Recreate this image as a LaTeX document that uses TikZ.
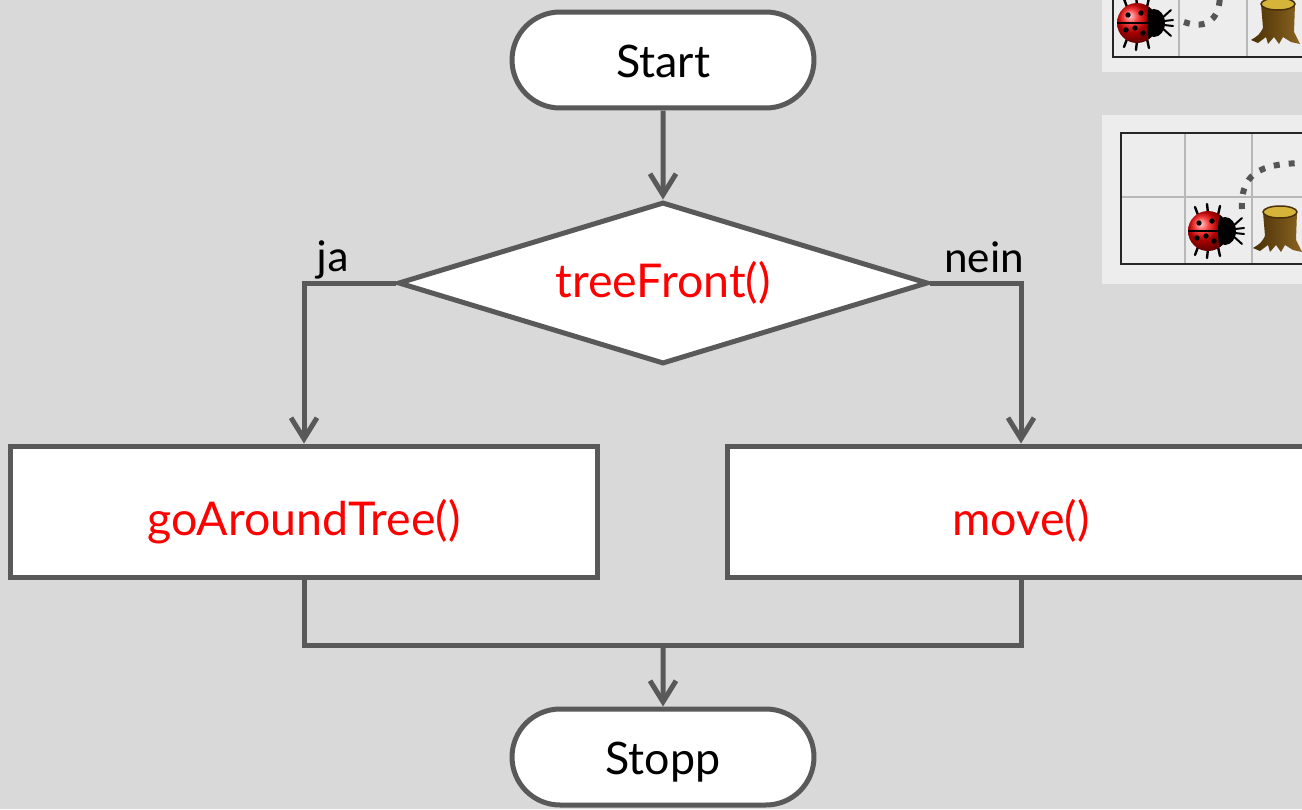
\documentclass[tikz,border=0pt]{standalone}
\usepackage{fontspec}
\setmainfont{Lato}
\newfontfamily\labelfont{Carlito}
\usetikzlibrary{shapes.geometric,shapes.misc,arrows.meta}
\definecolor{bg}{HTML}{D9D9D9}
\definecolor{ink}{HTML}{595959}
\definecolor{panel}{HTML}{EDEDED}
\definecolor{gridgray}{HTML}{B8B8B8}
\definecolor{dots}{HTML}{555555}
\definecolor{barkdark}{HTML}{4A3008}
\definecolor{barklight}{HTML}{8A6420}
\definecolor{stumptop}{HTML}{D6B43A}

% one drawing unit is 0.02cm
\tikzset{
  ladybug/.pic={
    % legs
    \draw[black, line width=0.048cm, line cap=round]
      (-10,-16) -- (-13,-24) (0,-18) -- (-1,-27) (10,-16) -- (12,-25)
      (-10,16) -- (-13,24) (0,18) -- (-1,27) (10,16) -- (12,25);
    % antennae
    \draw[black, line width=0.04cm, line cap=round]
      (24,-4) -- (34,-13) (24,4) -- (34,13) (27,-2) -- (36,-3) (27,2) -- (36,3);
    % head
    \fill[black] (17,0) ellipse [x radius=11, y radius=14];
    % shell
    \shade[ball color=red!95!black] (0,0) circle [radius=20];
    \begin{scope}
      \clip (0,0) circle [radius=20];
      \fill[black] (13,-21) .. controls (9,-8) and (9,8) .. (13,21) -- (22,21) -- (22,-21) -- cycle;
    \end{scope}
    \draw[black, line width=0.032cm] (-20,0) -- (12,0);
    \fill[black] (-9,-8) circle [radius=2.7] (4,-10) circle [radius=2.7]
      (-11,7) circle [radius=2.7] (-2,5) circle [radius=2.7] (6,10) circle [radius=2.7];
  },
  stump/.pic={
    % trunk and roots
    \shade[left color=barkdark, right color=barklight]
      (-17,-20) -- (-15,4) .. controls (-19,11) .. (-27,16) -- (-20,19) -- (-12,13)
      -- (-10,20) -- (-4,13) -- (1,20) -- (5,13) -- (13,18) -- (22,20) -- (16,8)
      -- (17,-20) -- cycle;
    % cut surface
    \fill[stumptop] (0,-20) ellipse [x radius=17, y radius=6];
    \draw[barkdark, line width=0.03cm] (0,-20) ellipse [x radius=17, y radius=6];
  },
  flow/.style={draw=ink, line width=0.1cm, fill=white, inner sep=0pt, text depth=0pt},
  terminal/.style={flow, rounded rectangle, minimum width=6.04cm, minimum height=1.92cm,
    text height=0.7cm, font=\fontsize{25.5}{30}\selectfont},
  decision/.style={flow, diamond, aspect=3.27, minimum width=10.6cm, minimum height=3.24cm,
    text height=0.56cm, text=red, font=\fontsize{26.5}{31}\selectfont},
  process/.style={flow, rectangle, minimum width=11.75cm, minimum height=2.64cm,
    text height=0.92cm, text=red, font=\fontsize{26.5}{31}\selectfont},
  conn/.style={draw=ink, line width=0.1cm, -{Straight Barb[length=0.42cm,width=0.52cm]}},
  link/.style={draw=ink, line width=0.1cm},
  branch/.style={font=\labelfont\fontsize{25.5}{30}\selectfont, anchor=base, text=black, inner sep=0pt},
  dotted arc/.style={draw=dots, line width=0.12cm, dash pattern=on 0.12cm off 0.18cm}
}

\begin{document}
\begin{tikzpicture}[x=0.02cm, y=-0.02cm]
  \useasboundingbox (0,0) rectangle (1302,809);
  \clip (0,0) rectangle (1302,809);
  \fill[bg] (0,0) rectangle (1302,809);

  % flowchart nodes
  \node[terminal] (start) at (663,60) {Start};
  \node[decision] (dec) at (663,283) {treeFront()};
  \node[process] (yes) at (304,512) {goAroundTree()};
  \node[process] (no) at (1021,512) {move()};
  \node[terminal] (stop) at (663,757) {Stopp};
  \coordinate (merge) at (663,645);

  % connectors
  \draw[conn] (start) -- (dec);
  \draw[conn] (dec.west) -| (yes.north);
  \draw[conn] (dec.east) -| (no.north);
  \draw[link] (yes.south) |- (merge) -| (no.south);
  \draw[conn] (merge) -- (stop);

  % branch labels
  \node[branch] (ja) at (333,271) {ja};
  \node[branch] (nein) at (984,272) {nein};

  % first scene: bug can move on
  \fill[panel] (1102,-5) rectangle (1310,72);
  \draw[gridgray, line width=0.04cm] (1179,-10) -- (1179,57) (1247,-10) -- (1247,57);
  \draw[black!85, line width=0.048cm] (1113,-10) |- (1310,57);
  \pic at (1137,23) {ladybug};
  \pic at (1278,24) {stump};
  \draw[dotted arc] (1184,22) .. controls (1206,30) and (1220,20) .. (1220,-6);

  % second scene: bug faces a tree
  \fill[panel] (1102,115) rectangle (1310,284);
  \draw[gridgray, line width=0.04cm] (1121,197) -- (1310,197)
    (1185,133) -- (1185,264) (1252,133) -- (1252,264);
  \draw[black!85, line width=0.048cm] (1310,133) -| (1121,264) -- (1310,264);
  \pic at (1208,231) {ladybug};
  \pic at (1280,232) {stump};
  \draw[dotted arc] (1242,209) .. controls (1240,168) and (1268,163) .. (1310,163);
\end{tikzpicture}
\end{document}
